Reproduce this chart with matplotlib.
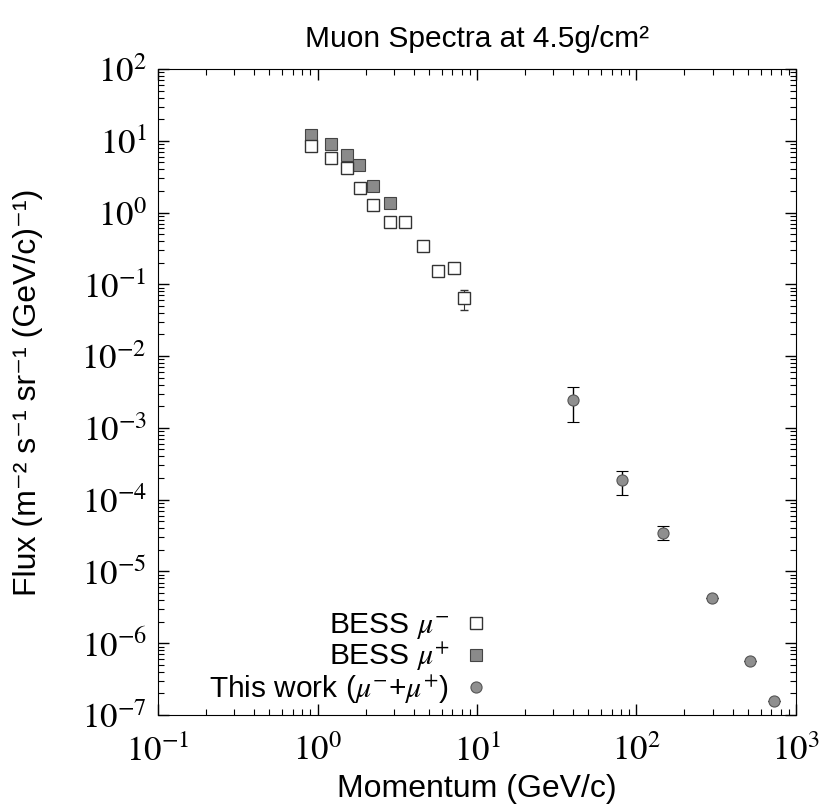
import numpy as np
import matplotlib
matplotlib.use("Agg")
import matplotlib.pyplot as plt
from matplotlib.lines import Line2D
from matplotlib.ticker import LogLocator, FuncFormatter, NullFormatter

plt.rcParams['mathtext.fontset'] = 'stix'
plt.rcParams['font.family'] = ['Liberation Sans', 'DejaVu Sans']

# BESS mu- (open squares)
p_mum = [0.91, 1.22, 1.52, 1.84, 2.24, 2.86, 3.56, 4.61, 5.67, 7.21, 8.29]
f_mum = [8.5, 5.8, 4.2, 2.18, 1.28, 0.735, 0.735, 0.346, 0.155, 0.168, 0.064]
e_mum = [0.5, 0.35, 0.25, 0.13, 0.08, 0.05, 0.05, 0.025, 0.012, 0.013, 0.02]

# BESS mu+ (filled squares)
p_mup = [0.91, 1.22, 1.52, 1.83, 2.24, 2.85]
f_mup = [12.0, 8.9, 6.3, 4.6, 2.38, 1.38]

# this work (mu- + mu+)
p_tw = [40.2, 80.8, 147, 296, 515, 731]
f_tw = [2.45e-3, 1.89e-4, 3.41e-5, 4.25e-6, 5.74e-7, 1.59e-7]
e_tw_lo = [1.23e-3, 0.72e-4, 0.66e-5, 0, 0, 0]
e_tw_hi = [1.24e-3, 0.65e-4, 0.91e-5, 0, 0, 0]

fig = plt.figure(figsize=(8.2, 8.05), dpi=100)
ax = fig.add_axes([0.1927, 0.1118, 0.778, 0.8025])

sq_open = dict(marker='s', ms=9, mfc='white', mec='#333333', mew=1.0)
sq_fill = dict(marker='s', ms=9, mfc='#8a8a8a', mec='#444444', mew=0.8)
circ = dict(marker='o', ms=8, mfc='#8f8f8f', mec='#555555', mew=0.8)

ax.errorbar(p_mum, f_mum, yerr=e_mum, ecolor='#333333', elinewidth=0.8,
            capsize=3, ls='none', zorder=3, **sq_open)
ax.plot(p_mup, f_mup, ls='none', zorder=2, **sq_fill)
ax.errorbar(p_tw, f_tw, yerr=[e_tw_lo, e_tw_hi], ecolor='black', elinewidth=1.0,
            capsize=4, ls='none', zorder=3, **circ)

ax.set_xscale('log')
ax.set_yscale('log')
ax.set_xlim(1e-1, 1e3)
ax.set_ylim(1e-7, 1e2)

fmt = FuncFormatter(lambda v, pos: r'$10^{%d}$' % round(np.log10(v)))
for a in (ax.xaxis, ax.yaxis):
    a.set_major_locator(LogLocator(base=10, numticks=20))
    a.set_minor_locator(LogLocator(base=10, subs=np.arange(2, 10), numticks=20))
    a.set_major_formatter(fmt)
    a.set_minor_formatter(NullFormatter())

ax.tick_params(which='both', direction='in', top=True, right=True)
ax.tick_params(which='major', length=8, width=1, labelsize=25)
ax.tick_params(axis='x', which='major', pad=14)
ax.tick_params(axis='y', which='major', pad=8)
ax.tick_params(which='minor', length=4, width=0.8)

ax.set_xlabel('Momentum (GeV/c)', fontsize=23, labelpad=4)
ax.set_ylabel('Flux (m⁻² s⁻¹ sr⁻¹ (GeV/c)⁻¹)', fontsize=23, labelpad=28)
ax.set_title('Muon Spectra at 4.5g/cm²', fontsize=21.5, pad=16)

handles = [Line2D([], [], ls='none', **sq_open),
           Line2D([], [], ls='none', **sq_fill),
           Line2D([], [], ls='none', **circ)]
labels = [r'BESS $\mu^{-}$', r'BESS $\mu^{+}$', r'This work ($\mu^{-}$+$\mu^{+}$)']
leg = ax.legend(handles, labels, loc='lower right', bbox_to_anchor=(0.555, -0.018),
                markerfirst=False, frameon=False, fontsize=21.5,
                handletextpad=0.4, labelspacing=0.0, handlelength=1.0,
                borderpad=0.2)

fig.savefig('out.png', dpi=100)
